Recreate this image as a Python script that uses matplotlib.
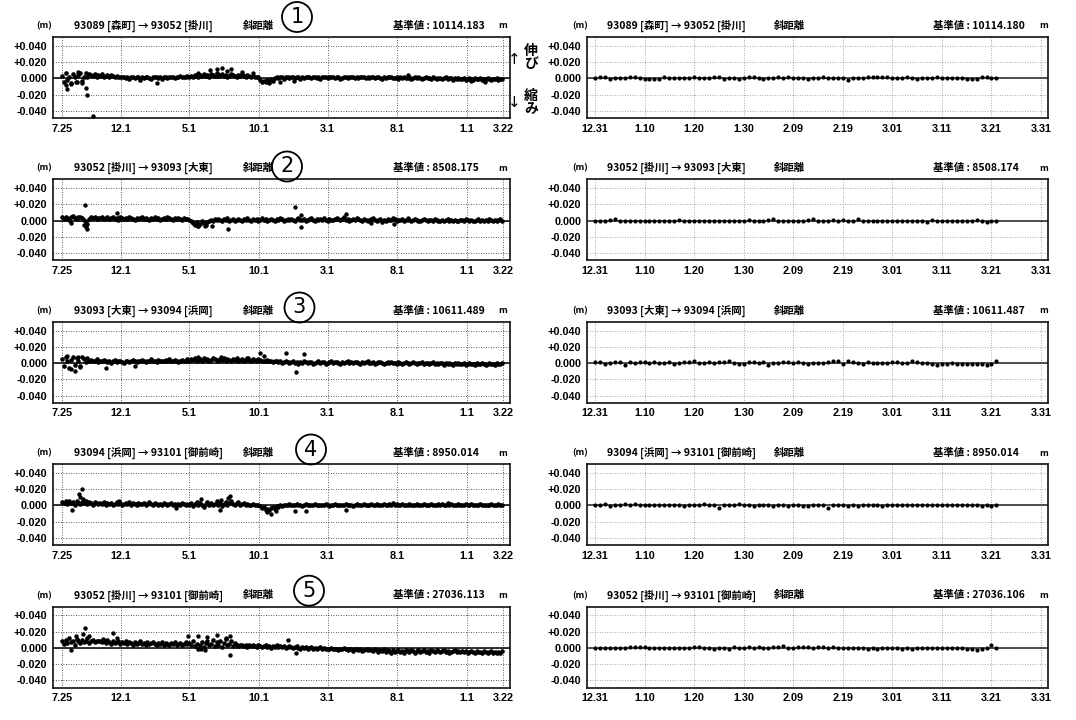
import numpy as np
import matplotlib
matplotlib.use('Agg')
import matplotlib.pyplot as plt
from matplotlib.patches import Ellipse

plt.rcParams['font.family'] = ['Noto Sans CJK JP', 'DejaVu Sans']

# ---------------- data ----------------
left_start = '2000-07-25'
left_tick_dates = ['2000-07-25', '2000-12-01', '2001-05-01', '2001-10-01',
                   '2002-03-01', '2002-08-01', '2003-01-01', '2003-03-22']
left_tick_labels = ['7.25', '12.1', '5.1', '10.1', '3.1', '8.1', '1.1', '3.22']
right_tick_days = [0, 10, 20, 30, 40, 50, 60, 70, 80, 90]
right_tick_labels = ['12.31', '1.10', '1.20', '1.30', '2.09', '2.19', '3.01', '3.11', '3.21', '3.31']
ytick_vals = [-0.04, -0.02, 0.0, 0.02, 0.04]
ytick_labels = ['-0.040', '-0.020', '0.000', '+0.020', '+0.040']

titles = ['93089 [森町] → 93052 [掛川]',
          '93052 [掛川] → 93093 [大東]',
          '93093 [大東] → 93094 [浜岡]',
          '93094 [浜岡] → 93101 [御前崎]',
          '93052 [掛川] → 93101 [御前崎]']
base_left = ['10114.183', '8508.175', '10611.489', '8950.014', '27036.113']
base_right = ['10114.180', '8508.174', '10611.487', '8950.014', '27036.106']
circled = ['1', '2', '3', '4', '5']

# left panels: one value every 4 days from 7.25 (mm)
L1 = [3,-4,6,-2,1,-6,5,2,-5,4,7,-3,2,6,1,5,
      4,3,5,2,4,3,5,2,3,4,2,4,3,1,3,2,2,
      1,2,0,1,-1,2,1,0,2,1,-2,1,0,1,2,0,-1,1,2,1,0,1,-1,2,1,0,1,2,1,0,2,1,3,2,1,2,3,
      2,3,2,4,3,2,4,3,5,3,4,2,5,4,3,6,3,4,5,3,4,2,3,5,4,3,2,4,3,5,3,2,4,3,2,3,1,2,1,
      -2,-4,-3,-5,-2,-4,-1,-3,0,
      1,0,2,1,-1,1,2,0,1,1, 0,2,1,-1,1,0,2,1,1,0, 1,2,0,1,-1,1,2,1,0,1,
      2,1,0,1,1,-1,0,2,1,0, 1,1,2,0,1,0,1,2,1,0, 1,0,1,2,0,1,1,0,-1,1,
      0,1,2,1,0,0,1,-1,1,0, 1,0,0,1,-1,0,1,0,1,0, -1,0,1,0,0,-1,1,0,-1,0,
      0,-1,0,1,-1,0,0,-2,0,-1, 0,-1,-1,0,-2,-1,0,-1,-2,0, -1,-1,0,-2,-1,-1,0,-1,-2,-1,
      -1,0,-2,-1,-1]
L2 = [4,2,5,3,1,4,6,3,2,5,4,3,1,-2,-4,2,5,3,4,2,3,
      3,4,2,3,5,2,3,4,2,3,1,4,3,2,3,2,4,3,2,1,3,2,3,4,2,3,2,1,3,2,4,2,3,1,2,3,2,4,3,2,1,3,2,3,2,1,3,2,2,
      1,-1,-3,-5,-2,-6,-4,-1,-3,-5,-2,0,1,-1,2,1,
      2,1,0,2,1,3,0,1,2,-1,1,2,1,0,2,1,3,1,0,2, 1,2,0,1,3,1,2,0,1,2, 1,-1,2,1,3,2,0,1,2,1,
      2,1,0,2,3,1,1,2,0,1, 2,3,1,0,2,1,2,1,3,1, 0,2,1,1,2,
      3,2,1,2,4,1,2,0,1,2, 1,3,2,1,0,2,1,-1,1,2, 3,1,0,1,2,-2,1,0,2,1,
      1,3,2,0,1,1,2,0,1,2, 1,0,1,2,1,0,-1,1,2,1, 0,1,1,0,2,1,0,-1,1,0,
      1,2,0,1,0,1,-1,0,1,1, 0,2,1,0,1,-1,0,1,2,0, 1,0,1,0,2,1,0,1,0,1, 2,0]
L3 = [5,-3,7,2,-6,4,8,-2,6,3,-4,7,5,1,6,3,
      4,3,2,5,1,3,2,4,2,1,3,0,2,4,1,2,3,1,0,2,3,1,2,4,2,1,3,2,4,3,1,2,3,5,2,3,1,4,2,3,2,4,3,5,2,3,4,2,1,3,4,2,3,5,
      3,5,4,6,3,4,5,3,6,4,5,3,4,6,5,4,3,5,4,6,3,5,4,3,5,4,6,3,4,5,3,4,6,4,3,5,4,3,5,4,3,
      3,2,4,2,3,1,2,3,1,2, 0,1,2,1,0,1,2,0,1,-1, 1,0,2,1,0,1,1,-1,0,1,
      2,0,1,1,-1,0,1,2,0,1, 1,0,-1,1,0,1,2,0,1,0, 1,1,0,-1,1,0,1,2,0,0,
      1,-1,0,1,1,0,-1,0,1,0, 1,0,0,-1,1,0,-1,0,1,0, -1,0,1,0,-1,0,0,1,-1,0,
      0,-1,0,1,-1,0,-1,0,0,-2, 0,-1,0,-1,-2,0,-1,0,-1,-1, 0,-2,-1,0,-1,-1,-2,0,-1,-1,
      0,-1,-2,-1,0,-1,-1,-2,0,-1, -1,0]
L4 = [4,3,5,2,6,3,4,1,5,3,2,4,3,5,2,4,3,1,4,3,2,
      3,2,4,1,3,2,3,1,2,4,2,3,1,2,3,2,4,1,3,2,1,3,2,2,3,1,2,4,2,1,3,2,0,2,1,3,2,1,2,3,1,2,0,2,1,3,2,1,2,
      1,3,-1,2,4,0,3,1,-2,2,4,1,3,0,2,5,1,3,-1,2,4,1,3,5,2,0,3,4,1,2,3,1,2,0,1,2,1,0,1,
      -1,-3,-2,-5,-4,-6,-3,-2,-4,-1,-2,0,-1,1,
      1,0,2,1,0,1,2,0,1,-1, 1,2,0,1,1,0,2,1,0,1, 0,1,2,1,-1,0,1,2,1,0,
      1,1,0,2,1,0,1,-1,1,2, 0,1,1,2,0,1,0,2,1,1, 2,1,0,1,2,1,0,2,1,3,
      1,2,0,1,2,1,0,1,2,1, 1,0,2,1,0,1,2,1,0,1, 2,1,1,0,2,1,2,0,1,3,
      1,2,1,0,1,2,0,1,1,2, 0,1,2,1,0,1,1,2,0,1, 1,0,1,2,1,0,1,2,1,1]
L5 = [8,5,10,6,12,7,9,4,11,8,6,10,7,9,12,6,8,10,7,9,8,
      9,7,8,6,10,7,5,8,6,7,9,5,7,6,8,5,7,6,4,7,5,6,8,5,6,4,7,5,6,7,5,4,6,5,7,4,6,5,3,6,5,7,4,5,6,4,5,7,5,
      6,3,8,2,5,-1,4,7,1,6,9,3,5,10,2,7,4,8,1,6,11,3,5,8,2,6,
      3,2,4,3,2,3,1,3,2,4,2,1,3,2,1,2,3,1,2,0,2,1,3,1,2,
      1,2,0,1,2,1,0,1,2,0,-1,1,0,1,-1,0,1,-1,0,-2,0,1,-1,0,-1,
      -1,-2,0,-1,-2,-1,-3,-1,-2,0,-2,-3,-1,-2,-4,-2,-1,-3,-2,-4,-3,-2,-3,-1,-3,
      -4,-2,-3,-5,-3,-4,-2,-5,-3,-4,-6,-3,-5,-4,-3,-5,-4,-6,-3,-4,-5,-3,-4,-6,-4,
      -3,-5,-4,-3,-5,-4,-6,-3,-4,-5,-3,-4,-5,-4,-3,-5,-4,-6,-5,-4,-3,-5,-4,-5,-4,
      -5,-4,-6,-5,-4,-5,-6,-4,-5,-5,-6,-4,-5,-6,-5,-4,-6,-5,-6,-5,-6,-4]

# scattered single days (day from 7.25, mm)
O1_day = [8, 12, 20, 30, 36, 44, 53, 55, 68, 208, 300, 325, 340, 352, 362, 372, 395, 420, 455, 480, 510, 760, 900, 930]
O1_val = [-8, -13, -7, -5, 8, -6, -12, -21, -46, -6, 7, 10, 12, 13, 9, 11, 8, 7, -6, -4, -3, 4, -3, -4]
O2_day = [20, 48, 50, 52, 56, 121, 300, 315, 330, 366, 513, 525, 526, 624, 680, 730, 760]
O2_val = [-3, -5, 19, -8, -10, 10, -7, -7, -6, -10, 17, 7, -8, 8, -3, -4, 3]
O3_day = [10, 20, 29, 35, 40, 97, 161, 300, 350, 410, 436, 445, 493, 514, 532]
O3_val = [9, -7, -10, 8, -5, -6, -4, 8, 7, 6, 13, 9, 13, -11, 11]
O4_day = [21, 38, 40, 43, 46, 125, 250, 305, 347, 350, 365, 370, 450, 460, 470, 513, 537, 625]
O4_val = [-6, 14, 10, 20, 8, 5, -3, 8, -6, 7, 9, 12, -8, -10, -7, -7, -7, -5]
O5_day = [20, 30, 46, 51, 60, 90, 112, 122, 278, 300, 305, 315, 320, 340, 360, 370, 370, 497, 515]
O5_val = [-3, 15, 17, 24, 14, 11, 18, 12, 15, 14, -2, -3, 13, 16, 12, 15, -9, 10, -6]

# right panels: daily from 12.31 (mm)
R1 = [0,1,1,-1,0,0,0,1,1,0, -1,-1,-1,-1,1,0,0,0,0,0, 1,0,0,0,1,1,-1,0,0,-1,
      0,1,1,0,-1,0,0,1,0,1, 0,0,0,-1,0,0,1,0,0,0, 0,-2,0,0,0,1,1,1,1,1,
      0,0,0,1,0,-1,0,0,0,1, 0,0,0,0,0,-1,-1,-1,1,1, 0,0]
R2 = [0,0,0,1,2,0,0,0,0,0, 0,0,0,-1,0,0,0,1,0,-1, 0,0,0,0,-1,-1,-1,0,0,0,
      0,1,0,-1,0,1,2,0,0,0, 0,-1,-1,1,2,0,0,0,1,0, 1,-1,0,2,0,0,0,-1,0,0,
      0,0,0,0,-1,-1,-1,-2,1,0, 0,0,0,0,-1,0,0,1,0,-2, 0,0]
R3 = [1,1,-1,0,1,1,-2,1,0,1, 1,0,1,0,0,1,-1,0,1,1, 3,0,0,1,0,1,1,3,0,-1,
      -1,1,1,0,1,-2,0,0,1,1, 0,1,0,-1,0,0,0,1,2,3, -1,2,1,0,-1,1,0,0,0,0,
      1,1,0,0,2,1,0,0,-1,-2, -1,-1,0,-1,-1,-1,-1,-1,-1,-2, -1,2]
R4 = [0,0,2,-1,0,0,2,1,2,0, 1,0,0,0,1,0,0,0,-1,1, 1,1,2,1,0,-3,0,1,1,2,
      1,1,-1,1,1,0,-1,0,0,-1, 0,1,-1,-1,1,1,0,-3,0,1, 0,-1,0,-1,0,1,1,0,-1,0,
      1,1,1,0,0,0,1,0,0,0, 1,0,0,0,0,1,1,0,-1,0, -1,1]
R5 = [0,0,0,0,0,0,0,1,1,1, 1,0,0,0,0,0,0,0,0,0, 1,1,0,0,-1,0,0,-1,1,0,
      0,1,0,1,0,0,1,1,2,0, 0,1,1,1,0,1,1,0,1,0, 0,0,0,0,0,-1,0,-1,0,0,
      0,0,-1,0,-1,0,0,0,0,0, 0,0,0,0,0,-1,-1,-3,-1,0, 3,0]

left_series = [L1, L2, L3, L4, L5]
left_out_day = [O1_day, O2_day, O3_day, O4_day, O5_day]
left_out_val = [O1_val, O2_val, O3_val, O4_val, O5_val]
right_series = [R1, R2, R3, R4, R5]

# ---------------- layout ----------------
W, H = 1076, 720
fig = plt.figure(figsize=(W / 100, H / 100), dpi=100)


def fx(px):
    return px / W


def fy(py):
    return 1 - py / H


t0 = np.datetime64(left_start)
left_ticks = [(np.datetime64(d) - t0).astype(int) for d in left_tick_dates]

tickfont = dict(family='Liberation Sans', weight='bold', size=7.8)
circle_pos = [(297, 17), (287, 166.5), (299.5, 307.5), (311, 449.5), (309, 590.7)]


def style_axis(ax, light):
    ax.set_ylim(-0.0489, 0.0508)
    ax.set_yticks(ytick_vals)
    ax.set_yticklabels(ytick_labels, fontdict=tickfont)
    ax.tick_params(length=0, pad=4)
    gc = '#8a8a8a' if light else '#222222'
    ax.grid(True, linestyle=(0, (1, 2)), color=gc, lw=0.6)
    ax.set_axisbelow(True)
    ax.axhline(0, color='#111111' if not light else '#333333', lw=1.2, zorder=2)
    for s in ax.spines.values():
        s.set_linewidth(1.2)
        s.set_color('#111111')


for k in range(5):
    zero = 78.3 + 142.4 * k
    bottom = zero + 39.7
    # left
    ax = fig.add_axes([fx(53), fy(bottom), fx(457), 81 / H])
    vals = np.array(left_series[k]) / 1000.0
    days = np.arange(len(vals)) * 4
    ax.scatter(days, vals, s=11, c='black', linewidths=0, zorder=3)
    ax.scatter(left_out_day[k], np.array(left_out_val[k]) / 1000.0, s=10, c='black',
               linewidths=0, zorder=3)
    ax.set_xlim(-19.8, 985.4)
    ax.set_xticks(left_ticks)
    ax.set_xticklabels(left_tick_labels, fontdict=tickfont)
    style_axis(ax, False)

    # right
    ax2 = fig.add_axes([fx(587), fy(bottom), fx(461), 81 / H])
    rv = np.array(right_series[k]) / 1000.0
    rd = np.arange(len(rv))
    ax2.scatter(rd, rv, s=9, c='black', linewidths=0, zorder=3)
    ax2.set_xlim(-1.6, 91.4)
    ax2.set_xticks(right_tick_days)
    ax2.set_xticklabels(right_tick_labels, fontdict=tickfont)
    style_axis(ax2, True)

    # titles
    ty = zero - 52.5
    for (xm, xt, xs, xb, xu, base) in [(44, 74, 259, 393, 503, base_left[k]),
                                       (580, 607, 790, 933, 1044, base_right[k])]:
        fig.text(fx(xm), fy(ty), '(m)', fontsize=6.5, weight='bold', ha='center', va='center')
        fig.text(fx(xt), fy(ty), titles[k], fontsize=7.5, weight='bold', ha='left', va='center')
        fig.text(fx(xs), fy(ty), '斜距離', fontsize=7.5, weight='bold', ha='center', va='center')
        fig.text(fx(xb), fy(ty), '基準値 : ' + base, fontsize=7.5, weight='bold', ha='left', va='center')
        fig.text(fx(xu), fy(ty), 'm', fontsize=6.5, weight='bold', ha='center', va='center')

    cx, cy = circle_pos[k]
    fig.patches.append(Ellipse((fx(cx), fy(cy)), 30 / W, 30 / H, transform=fig.transFigure,
                               fill=False, ec='black', lw=1.3))
    fig.text(fx(cx), fy(cy), circled[k], fontsize=15, ha='center', va='center',
             family='DejaVu Sans')

# stretch / shrink annotation
for ch, yy in [('伸', 50.7), ('び', 64), ('縮', 95.7), ('み', 109)]:
    fig.text(fx(531), fy(yy), ch, fontsize=10, weight='bold', ha='center', va='center')
fig.text(fx(514), fy(59), '↑', fontsize=11, ha='center', va='center', family='DejaVu Sans')
fig.text(fx(514), fy(102.7), '↓', fontsize=11, ha='center', va='center', family='DejaVu Sans')

fig.savefig('out.png', dpi=100, facecolor='white')
